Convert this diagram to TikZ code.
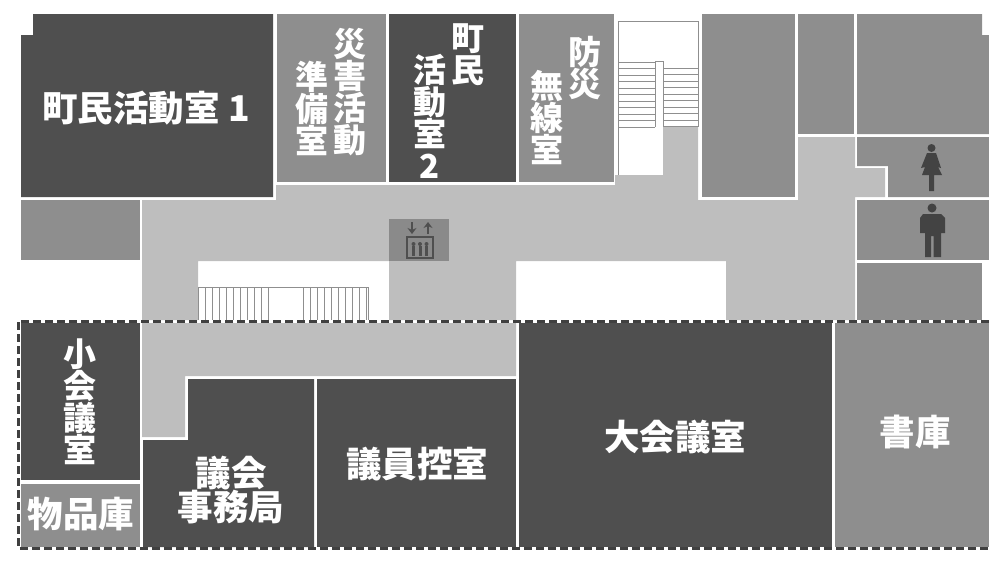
\documentclass[tikz,border=0pt]{standalone}
\usepackage{fontspec}
\usetikzlibrary{arrows.meta}
\newfontfamily\jpfont{Noto Sans CJK JP Black}
\definecolor{darkroom}{HTML}{4F4F4F}
\definecolor{midroom}{HTML}{8E8E8E}
\definecolor{floorgrey}{HTML}{BEBEBE}
\definecolor{liftgrey}{HTML}{8A8A8A}
\definecolor{stairline}{HTML}{8F8F8F}
\begin{document}
\begin{tikzpicture}[
    x=1pt, y=-1pt,
    dark/.style={fill=darkroom},
    mid/.style={fill=midroom},
    hall/.style={fill=floorgrey},
    label/.style={text=white, inner sep=0pt, align=center,
                  font=\jpfont\fontsize{35.5}{33}\selectfont},
    slabel/.style={label, font=\jpfont\fontsize{33}{32}\selectfont},
    tread/.style={draw=stairline, line width=0.9pt},
    boundary/.style={draw=black!75, line width=3pt, dash pattern=on 8pt off 4pt},
    person/.style={fill=darkroom!85!black},
    liftarrow/.style={darkroom, line width=1.6pt, -{Stealth[length=6pt,width=9pt]}},
  ]
    \useasboundingbox (0,0) rectangle (989,563);
    \path[hall] (142,200) -- (276,200) -- (276,185) -- (615,185) -- (615,175) -- (663,175)
      -- (663,127) -- (698,127) -- (698,200) -- (798,200) -- (798,137) -- (855,137)
      -- (855,168) -- (885,168) -- (885,197) -- (855,197) -- (855,320) -- (726,320) -- (726,261)
      -- (516,261) -- (516,320) -- (389,320) -- (389,261) -- (198,261) -- (198,320) -- (142,320) -- cycle;
    \path[hall] (142,323) -- (516,323) -- (516,376) -- (185,376) -- (185,437) -- (142,437) -- cycle;

    \path[dark] (33,14) -- (273,14) -- (273,197) -- (21,197) -- (21,35) -- (33,35) -- cycle;
    \path[mid] (277,14) rectangle (386,182);
    \path[dark] (389,14) rectangle (516,182);
    \path[mid] (519,14) rectangle (614,182);
    \path[mid] (21,200) rectangle (140,260);
    \path[mid] (702,14) rectangle (795,197);
    \path[mid] (798,14) rectangle (854,134);
    \path[mid] (857,14) -- (982,14) -- (982,35) -- (989,35) -- (989,134) -- (857,134) -- cycle;
    \path[mid] (857,137) -- (989,137) -- (989,197) -- (888,197) -- (888,166) -- (857,166) -- cycle;
    \path[mid] (857,200) rectangle (989,260);
    \path[mid] (857,263) -- (982,263) -- (982,320) -- (857,320) -- cycle;

    \path[dark] (21,323) rectangle (140,480);
    \path[mid] (21,484) rectangle (140,547);
    \path[dark] (188,379) -- (314,379) -- (314,547) -- (143,547) -- (143,440) -- (188,440) -- cycle;
    \path[dark] (317,379) rectangle (516,547);
    \path[dark] (519,323) rectangle (832,547);
    \path[mid] (835,323) rectangle (989,547);

    \draw[stairline, line width=1pt] (618,21) -- (698,21) -- (698,127) (618,21) -- (618,175);
    \foreach \y in {62,68.5,...,127} \draw[tread] (618,\y) -- (655,\y);
    \foreach \y in {68,74.5,...,127} \draw[tread] (664,\y) -- (698,\y);
    \draw[tread] (655,127) -- (655,61) -- (663,61) -- (663,127);
    \draw[tread] (198,287) -- (368,287) -- (368,320);
    \foreach \x in {198,205,...,270} \draw[tread] (\x,287) -- (\x,320);
    \foreach \x in {303,310,...,366} \draw[tread] (\x,287) -- (\x,320);

    \path[fill=liftgrey] (389,219) rectangle (449,261);
    \draw[darkroom, line width=1.6pt] (407,237) rectangle (433,258);
    \draw[liftarrow] (412,222) -- (412,234);
    \draw[liftarrow] (428,234) -- (428,222);
    \foreach \x in {413.5,420,426.5} {
      \path[fill=darkroom] (\x,244) circle (2);
      \draw[darkroom, line width=3pt] (\x,246) -- (\x,256);
    }

    \path[person] (931.5,148) circle (4);
    \path[person] (927,153) -- (936,153) -- (941,168) -- (938,167) -- (942,175) -- (934,175) -- (934,191)
      -- (929,191) -- (929,175) -- (922,175) -- (925,167) -- (921,168) -- cycle;
    \path[person] (932,208) circle (4.5);
    \path[person] (923,214) -- (941,214) -- (945,218) -- (945,233) -- (941,233) -- (941,257) -- (933.5,257)
      -- (933.5,236) -- (931,236) -- (931,257) -- (925,257) -- (925,233) -- (920,233) -- (920,218) -- cycle;

    \draw[boundary] (989,321) -- (18,321) -- (18,548) -- (989,548);

    \node[label] (act1) at (146,108) {町民活動室 1};
    \node[slabel] (saigai) at (350,92) {災\\害\\活\\動};
    \node[slabel] (junbi) at (312,108) {準\\備\\室};
    \node[slabel] (cho) at (468,55) {町\\民};
    \node[slabel] (act2) at (430,116) {活\\動\\室\\2};
    \node[slabel] (bosai) at (585,68) {防\\災};
    \node[slabel] (musen) at (547,118) {無\\線\\室};
    \node[slabel] (small) at (80,402) {小\\会\\議\\室};
    \node[label] (store) at (81,514) {物品庫};
    \node[label] (office) at (231,490) {議会\\事務局};
    \node[label] (wait) at (417,464) {議員控室};
    \node[label] (large) at (675,437) {大会議室};
    \node[label] (books) at (915,432) {書庫};
\end{tikzpicture}
\end{document}
